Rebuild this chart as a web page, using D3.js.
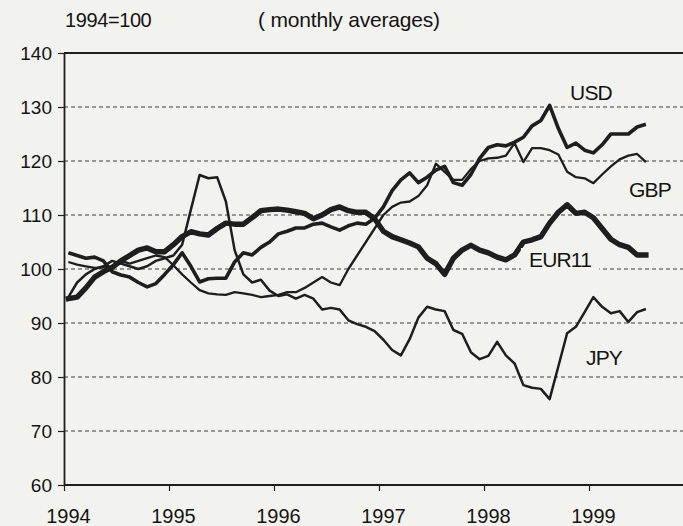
<!DOCTYPE html>
<html><head><meta charset="utf-8">
<script src="https://cdn.jsdelivr.net/npm/d3@7"></script>
<style>
html,body{margin:0;padding:0;background:#f2f2ef;}
svg{display:block;font-family:"Liberation Sans",Arial,sans-serif;}
</style></head>
<body>
<svg id="chart" width="683" height="526"></svg>
<script>
// Monthly averages Jan 1994 .. Jul 1999, index 1994=100
const years = ["1994","1995","1996","1997","1998","1999"];
const yTicks = [60,70,80,90,100,110,120,130,140];

const usd = [103,102.5,102,102.2,101.5,99.5,98.9,98.5,97.5,96.7,97.3,99,
  100.8,103,100.5,97.6,98.2,98.3,98.3,101.3,103,102.6,104,105,
  106.5,107,107.6,107.6,108.3,108.5,107.8,107.2,108,108.5,108.3,109.4,
  111.5,114.5,116.5,117.8,116,117,118.3,119,116,115.5,117.5,120.5,
  122.5,123,122.8,123.5,124.4,126.5,127.5,130.3,126,122.5,123.3,122,
  121.5,123,125,125,125,126.3,126.8];
const gbp = [101.3,100.8,100.5,100.2,100.3,100.5,101.5,101,101.5,102,102.5,102.2,
  100.7,99,97.5,96.1,95.5,95.3,95.2,95.7,95.5,95.2,94.8,95,
  95.2,95.7,95.7,96.5,97.5,98.5,97.5,97,100,102.5,105,107.5,
  110,111.5,112.3,112.5,113.5,115.5,119.5,118,116.5,116.5,118.5,120,
  120.5,120.6,121,123.3,119.8,122.4,122.4,122,121.2,118,117,116.8,
  115.9,117.5,119,120.3,121,121.3,119.8];
const eur11 = [94.5,94.8,96.5,98.5,99.5,100.3,101.5,102.5,103.5,103.9,103.2,103.2,
  104.5,106,106.9,106.5,106.3,107.5,108.5,108.3,108.3,109.5,110.8,111,
  111.1,110.9,110.6,110.3,109.3,110,111,111.5,110.8,110.5,110.5,109.3,
  107,106,105.4,104.8,104.1,102,101,99,102,103.5,104.4,103.5,
  103,102.2,101.7,102.6,105,105.4,106,108.5,110.5,111.9,110.3,110.5,
  109.5,107.5,105.5,104.5,104,102.6,102.6];
const jpy = [94.8,97.5,99,100,100.5,101.5,101,100.5,100,100.5,101.5,102,
  102.5,104.5,111,117.4,116.8,117,112.5,103.5,99,97.5,98,96,
  95,95.3,94.5,95.2,94.5,92.5,92.8,92.5,90.5,89.8,89.3,88.5,
  86.9,85,84,87,91,93,92.5,92.2,88.7,88,84.6,83.3,
  83.9,86.5,84,82.5,78.5,78,77.8,75.9,82,88.1,89.3,92,
  94.8,93,91.8,92.2,90.2,92,92.6];

const seriesNames = ["USD","GBP","EUR11","JPY"];
const seriesData = [usd, gbp, eur11, jpy];
const seriesWidth = [3.6, 2.3, 5.4, 2.5];
const labelPos = [[591,100],[650,197],[560,267],[604,365]];

const svg = d3.select("#chart");
const ink = "#1e1e1e";
const x = d3.scaleLinear().domain([0,72]).range([64,694]);
const y = d3.scaleLinear().domain([60,140]).range([485,53]);

// gridlines
svg.append("g").selectAll("line").data(yTicks.filter(v=>v>60 && v<140)).join("line")
  .attr("x1",64).attr("x2",683).attr("y1",d=>y(d)).attr("y2",d=>y(d))
  .attr("stroke","#3c3c3c").attr("stroke-width",1).attr("stroke-dasharray","4,3");

// top border
svg.append("line").attr("x1",64).attr("x2",683).attr("y1",y(140)).attr("y2",y(140))
  .attr("stroke",ink).attr("stroke-width",2);

// y axis
const yAxis = d3.axisLeft(y).tickValues(yTicks).tickSize(6).tickSizeOuter(0).tickPadding(6);
const gy = svg.append("g").attr("transform","translate(64,0)").call(yAxis);
gy.select(".domain").attr("stroke",ink).attr("stroke-width",1.8);
gy.selectAll(".tick line").attr("stroke",ink).attr("stroke-width",1.2);
gy.selectAll(".tick text").attr("fill","#141414").style("font-size","19px")
  .style("font-family","'Liberation Sans',Arial,sans-serif").attr("dy","0.36em");

// x axis
const xAxis = d3.axisBottom(x).tickValues(years.map((d,i)=>i*12))
  .tickFormat((d,i)=>years[i]).tickSize(6).tickSizeOuter(0).tickPadding(18);
const gx = svg.append("g").attr("transform","translate(0,485)").call(xAxis);
gx.select(".domain").attr("stroke",ink).attr("stroke-width",2).attr("d","M64,0H683");
gx.selectAll(".tick line").attr("stroke",ink).attr("stroke-width",1.2);
gx.selectAll(".tick text").attr("fill","#141414").style("font-size","20px")
  .style("font-family","'Liberation Sans',Arial,sans-serif").attr("dx","4");

// lines
const line = d3.line().x((d,i)=>x(i+0.5)).y(d=>y(d));
svg.append("g").selectAll("path").data(seriesData).join("path")
  .attr("d",d=>line(d)).attr("fill","none").attr("stroke",ink)
  .attr("stroke-width",(d,i)=>seriesWidth[i]).attr("stroke-linejoin","round")
  .attr("stroke-linecap",(d,i)=>i===2?"square":"butt");

// series labels (with background to break gridlines)
const lab = svg.append("g").selectAll("g").data(seriesNames).join("g");
lab.each(function(d,i){
  const g = d3.select(this);
  const t = g.append("text").attr("x",labelPos[i][0]).attr("y",labelPos[i][1])
    .attr("text-anchor","middle").attr("fill","#141414")
    .style("font-size","21px").style("letter-spacing","-0.8px").text(d);
  const bb = t.node().getBBox();
  g.insert("rect","text").attr("x",bb.x-8).attr("y",bb.y).attr("width",bb.width+16).attr("height",bb.height)
    .attr("fill","#f2f2ef");
});

// header texts
svg.append("text").attr("x",65).attr("y",27).attr("fill","#141414")
  .style("font-size","20px").style("letter-spacing","-0.4px").text("1994=100");
svg.append("text").attr("x",349).attr("y",27).attr("text-anchor","middle").attr("fill","#141414")
  .style("font-size","21px").style("letter-spacing","-0.2px").text("( monthly averages)");
</script>
</body></html>
